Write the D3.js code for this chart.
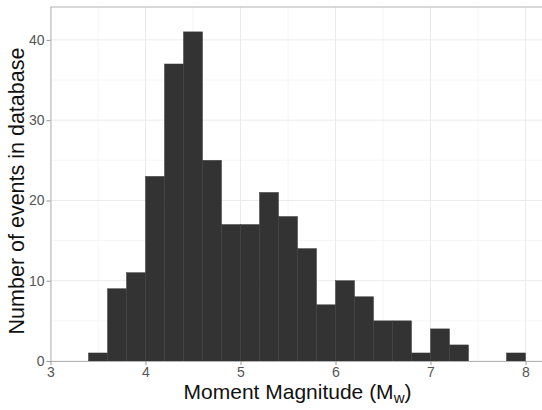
<!DOCTYPE html>
<html>
<head>
<meta charset="utf-8">
<script src="https://cdn.jsdelivr.net/npm/d3@7"></script>
<style>
html,body{margin:0;padding:0;background:#fff;}
svg{display:block;font-family:"Liberation Sans",Arial,sans-serif;}
</style>
</head>
<body>
<svg id="chart" width="542" height="410"></svg>
<script>
// Histogram bins (lower edges, width 0.2) and counts
const binStarts = [3.4,3.6,3.8,4.0,4.2,4.4,4.6,4.8,5.0,5.2,5.4,5.6,5.8,6.0,6.2,6.4,6.6,6.8,7.0,7.2,7.4,7.6,7.8];
const counts    = [1,9,11,23,37,41,25,17,17,21,18,14,7,10,8,5,5,1,4,2,0,0,1];
const binWidth = 0.2;
const xTicks = [3,4,5,6,7,8];
const xMinor = [3.5,4.5,5.5,6.5,7.5];
const yTicks = [0,10,20,30,40];
const yMinor = [5,15,25,35];

(function () {
const svg = d3.select("#chart");
const pLeft = 50.5, pRight = 544.5, pTop = 7, pBottom = 361;

const x = d3.scaleLinear().domain([3, 8.2]).range([pLeft, pRight]);
const y = d3.scaleLinear().domain([0, 44.1]).range([pBottom, pTop]);

const g = svg.append("g");

// minor grid
g.selectAll(".vminor").data(xMinor).enter().append("line")
  .attr("x1", d => x(d)).attr("x2", d => x(d)).attr("y1", pTop).attr("y2", pBottom)
  .attr("stroke", "#f4f4f4").attr("stroke-width", 0.8);
g.selectAll(".hminor").data(yMinor).enter().append("line")
  .attr("x1", pLeft).attr("x2", pRight).attr("y1", d => y(d)).attr("y2", d => y(d))
  .attr("stroke", "#f4f4f4").attr("stroke-width", 0.8);
// major grid
g.selectAll(".vmajor").data(xTicks).enter().append("line")
  .attr("x1", d => x(d)).attr("x2", d => x(d)).attr("y1", pTop).attr("y2", pBottom)
  .attr("stroke", "#ebebeb").attr("stroke-width", 1);
g.selectAll(".hmajor").data(yTicks).enter().append("line")
  .attr("x1", pLeft).attr("x2", pRight).attr("y1", d => y(d)).attr("y2", d => y(d))
  .attr("stroke", "#ebebeb").attr("stroke-width", 1);

// bars
const data = binStarts.map((s, i) => ({x0: s, x1: s + binWidth, n: counts[i]})).filter(d => d.n > 0);
g.selectAll(".bar").data(data).enter().append("rect")
  .attr("x", d => x(d.x0))
  .attr("width", d => x(d.x1) - x(d.x0))
  .attr("y", d => y(d.n))
  .attr("height", d => y(0) - y(d.n))
  .attr("fill", "#333333")
  .attr("stroke", "#3a3a3a")
  .attr("stroke-width", 0.5);

// top border
g.append("line").attr("x1", pLeft).attr("x2", pRight).attr("y1", pTop).attr("y2", pTop)
  .attr("stroke", "#b3b3b3").attr("stroke-width", 1);

// axes
const xAxis = d3.axisBottom(x).tickValues(xTicks).tickSize(4).tickPadding(2).tickFormat(d3.format("d"));
const yAxis = d3.axisLeft(y).tickValues(yTicks).tickSize(4).tickPadding(2).tickFormat(d3.format("d"));

const gx = svg.append("g").attr("transform", `translate(0,${pBottom})`).call(xAxis);
const gy = svg.append("g").attr("transform", `translate(${pLeft},0)`).call(yAxis);
[gx, gy].forEach(a => {
  a.select(".domain").attr("stroke", "#b3b3b3").attr("stroke-width", 1);
  a.selectAll(".tick line").attr("stroke", "#999").attr("stroke-width", 1);
  a.selectAll(".tick text").attr("fill", "#555").attr("font-size", 14)
    .attr("font-family", "Liberation Sans, Arial, sans-serif");
});
gx.select(".domain").attr("d", `M${pLeft},0.5H${pRight}`);
gy.select(".domain").attr("d", `M0.5,${pTop}V${pBottom}`);

// axis titles
const xt = svg.append("text")
  .attr("x", (pLeft + pRight) / 2).attr("y", 399)
  .attr("text-anchor", "middle").attr("font-size", 21).attr("fill", "#111");
xt.append("tspan").text("Moment Magnitude (M");
xt.append("tspan").attr("font-size", 15).attr("dy", 4).text("w");
xt.append("tspan").attr("dy", -4).text(")");

svg.append("text")
  .attr("transform", `translate(24,191) rotate(-90)`)
  .attr("text-anchor", "middle").attr("font-size", 21.5).attr("fill", "#111")
  .text("Number of events in database");
})();
</script>
</body>
</html>
